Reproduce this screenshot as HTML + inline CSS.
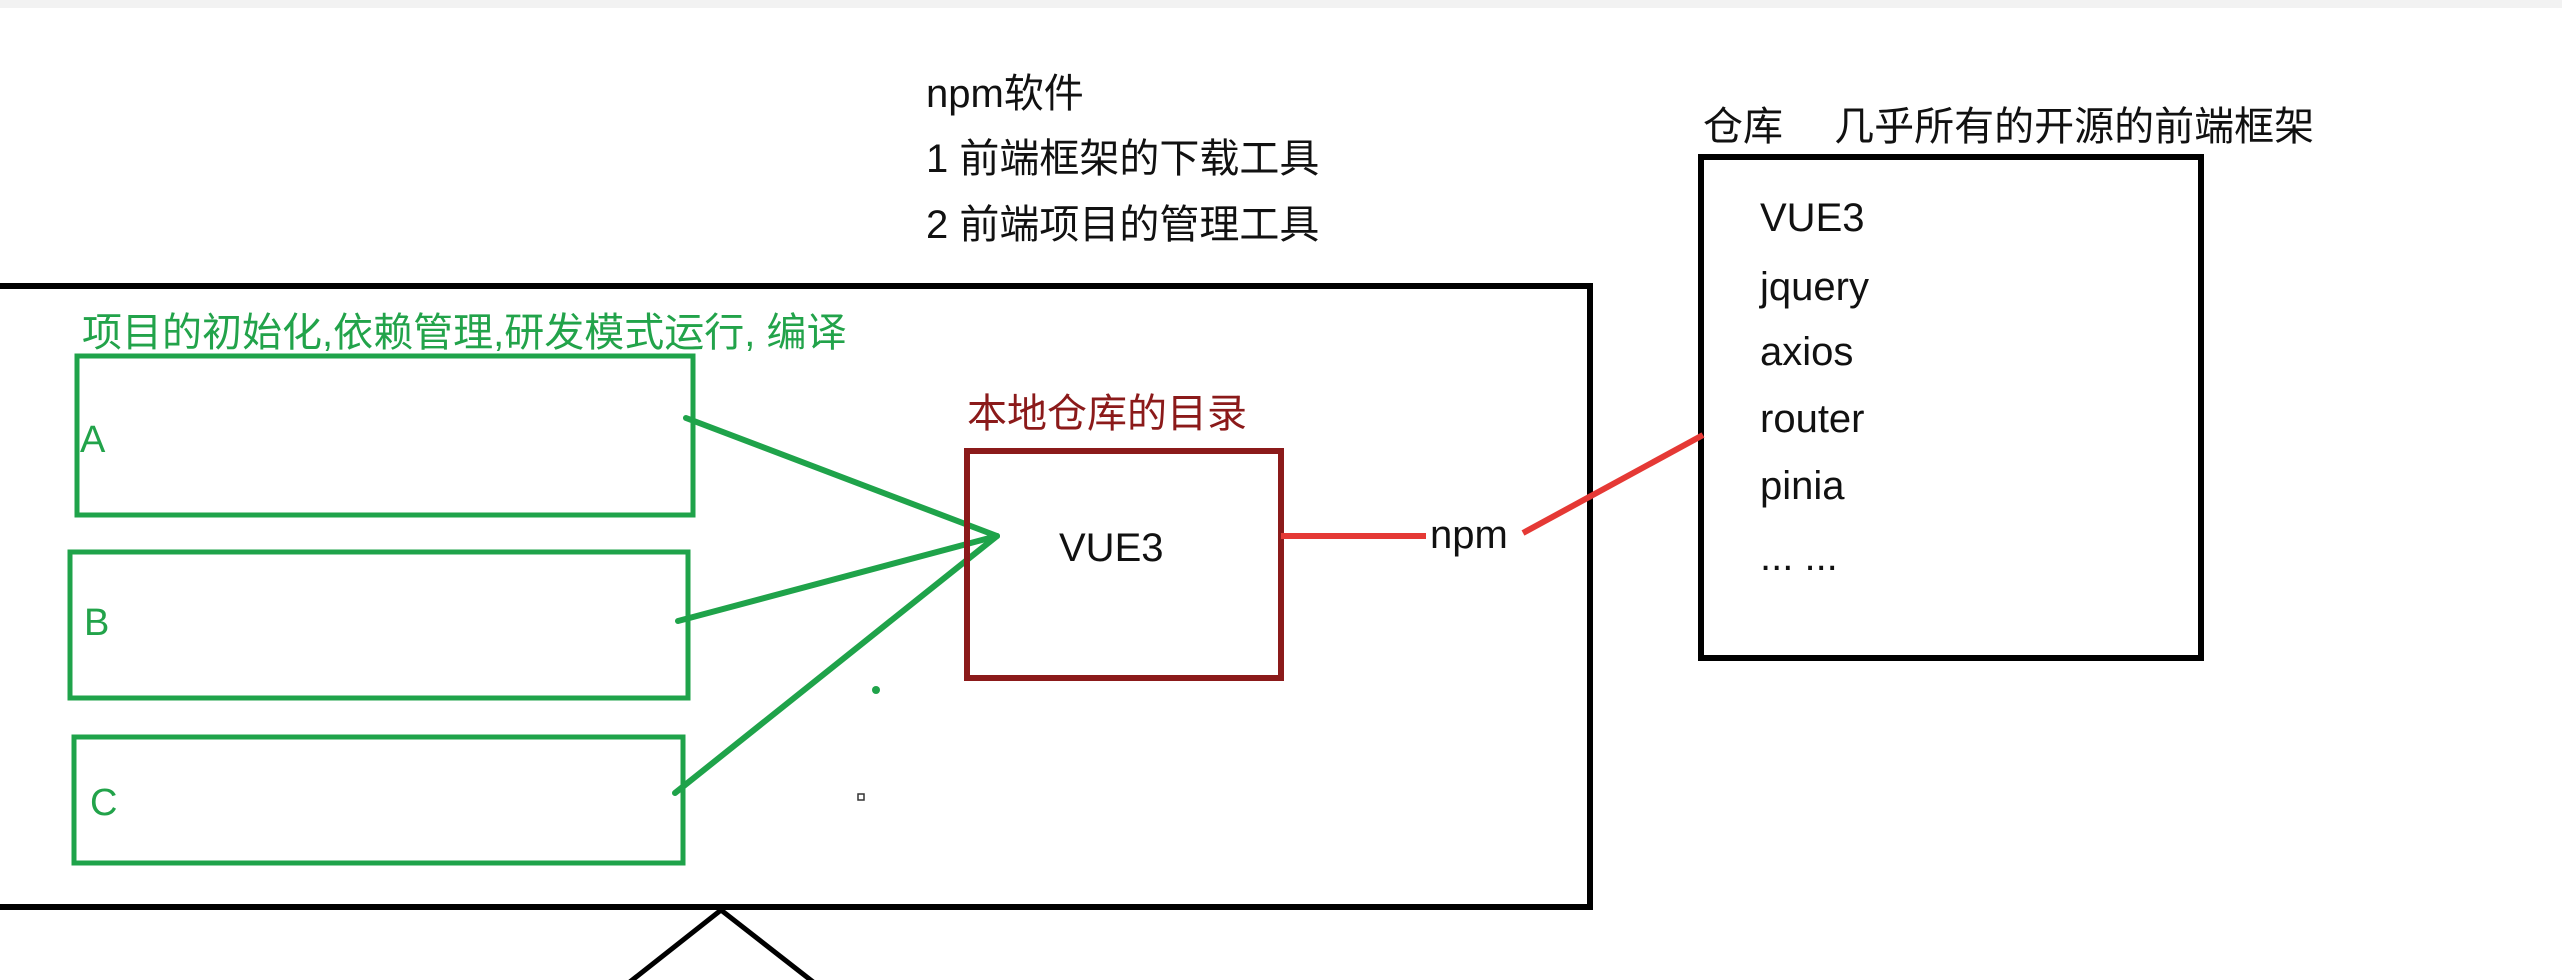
<!DOCTYPE html>
<html><head><meta charset="utf-8"><style>
html,body{margin:0;padding:0;background:#fff;width:2562px;height:980px;overflow:hidden}
</style></head><body>
<svg width="2562" height="980" xmlns="http://www.w3.org/2000/svg" style="font-family:'Liberation Sans','Noto Sans CJK SC',sans-serif">
<rect x="0" y="0" width="2562" height="8" fill="#f2f2f2"/>
<g font-size="40" fill="#111">
<text x="926" y="107">npm软件</text>
<text x="926" y="172">1 前端框架的下载工具</text>
<text x="926" y="238">2 前端项目的管理工具</text>
<text x="1703" y="140">仓库　 几乎所有的开源的前端框架</text>
<text x="1760" y="231">VUE3</text>
<text x="1760" y="300">jquery</text>
<text x="1760" y="365">axios</text>
<text x="1760" y="432">router</text>
<text x="1760" y="499">pinia</text>
<text x="1760" y="570">... ...</text>
<text x="1059" y="561">VUE3</text>
<text x="1430" y="548">npm</text>
</g>
<rect x="-10" y="286" width="1600" height="621" fill="none" stroke="#000" stroke-width="6"/>
<rect x="1701" y="157" width="500" height="501" fill="none" stroke="#000" stroke-width="6"/>
<text x="82" y="346" font-size="40" fill="#22a34a">项目的初始化,依赖管理,研发模式运行, 编译</text>
<g fill="none" stroke="#1fa34a" stroke-width="5">
<rect x="77" y="356" width="616" height="159"/>
<rect x="70" y="552" width="618" height="146"/>
<rect x="74" y="737" width="609" height="126"/>
</g>
<g font-size="38" fill="#22a34a">
<text x="80" y="452">A</text>
<text x="84" y="635">B</text>
<text x="90" y="815">C</text>
</g>
<g stroke="#1fa34a" stroke-width="6" stroke-linecap="round">
<line x1="686" y1="418" x2="997" y2="536"/>
<line x1="678" y1="621" x2="997" y2="536"/>
<line x1="675" y1="793" x2="997" y2="536"/>
</g>
<circle cx="876" cy="690" r="4" fill="#1fa34a"/>
<rect x="858" y="794" width="6" height="6" fill="none" stroke="#333" stroke-width="1.5"/>
<text x="967" y="427" font-size="40" fill="#8b1a1a">本地仓库的目录</text>
<rect x="967" y="451" width="314" height="227" fill="none" stroke="#8b1a1a" stroke-width="6"/>
<g stroke="#e53935" stroke-width="6">
<line x1="1281" y1="536" x2="1426" y2="536"/>
<line x1="1523" y1="533" x2="1703" y2="435"/>
</g>
<polyline points="626,985 721,910 817,985" fill="none" stroke="#000" stroke-width="5"/>
</svg>
</body></html>
